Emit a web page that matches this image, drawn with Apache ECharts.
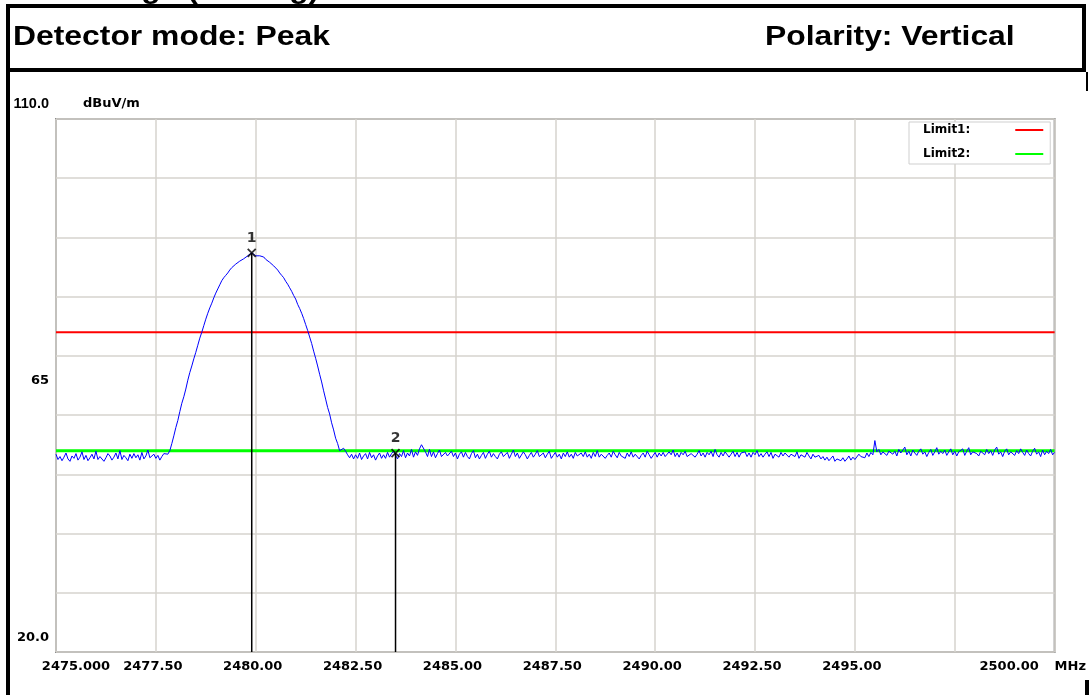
<!DOCTYPE html>
<html>
<head>
<meta charset="utf-8">
<title>Detector mode: Peak</title>
<script src="https://cdn.jsdelivr.net/npm/echarts@6/dist/echarts.min.js"></script>
<style>
  html, body { margin: 0; padding: 0; background: #fff; }
  /* fixed size, same as the screenshot */
  #myChart { width: 1089px; height: 695px; }
</style>
</head>
<body>
<div id="myChart"></div>
<script>
// frequency axis (MHz)
var freqMin = 2475
var freqMax = 2500
var freqStep = 2.5
var xTickLabels = ['2475.000', '2477.50', '2480.00', '2482.50', '2485.00', '2487.50',
  '2490.00', '2492.50', '2495.00', '', '2500.00']

// level axis (dBuV/m)
var levelMin = 20
var levelMax = 110
var levelStep = 10
var yTickLabels = ['20.0', '65', '110.0']

// limit lines
var limitNames = ['Limit1:', 'Limit2:']
var limitLevels = [74, 54]
var limitColors = ['#ff0000', '#00ff00']

// markers
var markerNames = ['1', '2']
var markerFreqs = [2479.90, 2483.50]
var markerLevels = [87.4, 53.6]

// measured trace, one point every 0.05 MHz from 2475.00
var traceStart = 2475
var traceStep = 0.05
var traceLevels = [
  // 2475.00 - 2477.75
  53.4, 52.5, 53.0, 52.3, 52.9, 53.6, 52.6, 52.2, 53.1, 52.7,
  53.5, 52.4, 52.9, 53.8, 52.5, 53.2, 52.3, 52.8, 53.4, 52.6,
  53.9, 52.5, 53.0, 53.3, 52.2, 52.8, 53.5, 53.1, 52.4, 52.9,
  53.6, 52.6, 54.0, 52.5, 53.2, 52.8, 52.3, 53.4, 52.7, 53.5,
  52.8, 53.3, 52.4, 53.7, 52.6, 53.1, 54.1, 52.8, 52.5, 53.4,
  52.7, 53.2, 52.4, 53.0, 53.5, 53.2,
  // 2477.80 - 2482.15 carrier
  53.4, 54.0, 55.2, 56.5,
  57.9, 59.1, 60.6, 62.0, 63.1, 64.4, 65.9, 67.2, 68.3, 69.5,
  70.6, 71.8, 73.0, 74.0, 75.1, 76.2, 77.2, 78.1, 78.9, 79.8,
  80.6, 81.3, 82.0, 82.7, 83.2, 83.6, 84.0, 84.5, 84.9, 85.2,
  85.5, 85.8, 86.0, 86.2, 86.4, 86.6, 86.9, 87.2, 87.4, 87.1,
  86.9, 86.8, 86.9, 86.6, 86.7, 86.3, 86.1, 85.8, 85.6, 85.2,
  84.9, 84.5, 84.0, 83.6, 83.2, 82.6, 82.1, 81.5, 80.9, 80.2,
  79.6, 78.7, 78.0, 77.2, 76.3, 75.3, 74.3, 73.2, 72.1, 70.8,
  69.6, 68.3, 66.9, 65.6, 64.1, 62.7, 61.3, 60.2, 58.7, 57.5,
  56.1, 55.2, 54.0, 53.9,
  // 2482.20 - 2500.00
  54.4, 53.9, 53.3, 52.8, 53.4, 52.6, 53.3, 52.7, 53.6, 52.5, 53.1, 53.5, 52.6, 53.7, 52.8, 53.3, 52.4, 53.1, 53.6, 52.7,
  53.3, 52.7, 53.7, 52.9, 53.5, 53.9, 53.6, 52.6, 53.5, 53.0, 54.0, 52.8, 53.6, 53.1, 54.2, 52.9, 53.8, 53.2, 54.3, 55.0,
  55.2, 53.8, 53.0, 54.2, 53.0, 53.8, 52.8, 53.5, 54.1, 53.0, 52.7, 53.7, 53.1, 52.8, 53.9, 53.0, 53.6, 52.6, 53.4, 53.8,
  52.9, 53.7, 53.0, 52.6, 53.5, 54.0, 52.8, 53.4, 52.6, 53.2, 53.7, 52.7, 53.4, 53.9, 52.9, 53.5, 53.0, 52.6, 53.4, 53.8,
  53.0, 52.8, 53.7, 52.7, 53.4, 54.1, 53.0, 53.6, 52.7, 52.9, 53.8, 53.3, 52.6, 53.2, 53.7, 52.9, 53.4, 54.0, 53.0, 52.7,
  53.6, 52.8, 53.4, 53.9, 52.7, 53.2, 53.7, 52.9, 53.4, 52.6, 53.6, 53.0, 53.8, 52.9, 53.4, 52.7, 53.7, 53.1, 52.9, 53.6,
  53.0, 53.8, 52.9, 53.4, 52.7, 53.7, 53.0, 54.0, 52.9, 53.4, 53.7, 52.7, 53.2, 53.6, 52.9, 53.9, 53.3, 52.8, 53.7, 53.1,
  53.4, 52.7, 53.6, 53.0, 53.8, 52.9, 53.4, 53.7, 52.6, 53.2, 53.6, 52.9, 53.9, 53.3, 52.7, 53.2, 53.7, 52.9, 53.6, 53.1,
  53.7, 53.0, 52.9, 53.8, 53.3, 54.1, 53.0, 53.6, 52.9, 53.7, 53.3, 53.9, 53.0, 52.7, 53.5, 53.8, 52.9, 53.4, 54.0, 53.1,
  53.6, 52.9, 53.7, 53.3, 53.9, 53.0, 54.2, 53.3, 52.9, 53.7, 53.1, 53.8, 53.5, 52.9, 53.4, 53.9, 53.0, 53.7, 52.9, 53.6,
  53.3, 53.8, 53.0, 53.6, 52.9, 53.7, 53.3, 54.0, 53.0, 53.5, 52.9, 53.4, 53.8, 53.0, 53.7, 52.7, 53.4, 53.6, 52.9, 53.7,
  53.1, 53.6, 53.9, 52.9, 53.4, 53.7, 53.0, 53.8, 52.7, 53.3, 53.6, 52.9, 53.7, 53.1, 52.6, 53.4, 52.9, 52.7, 53.2, 52.6,
  53.0, 52.4, 52.9, 52.3, 52.7, 53.1, 52.2, 52.6, 52.9, 52.3, 52.8, 52.2, 52.6, 53.1, 52.4, 52.9, 52.5, 52.7, 53.4, 53.0,
  53.2, 52.8, 53.6, 53.0, 53.7, 53.3, 55.7, 53.8, 54.2, 53.3, 53.8, 54.0, 53.2, 53.9, 54.1, 53.4, 53.9, 53.1, 54.2, 53.6,
  53.8, 54.6, 53.3, 53.9, 53.1, 54.1, 53.6, 53.2, 53.9, 54.3, 53.4, 53.8, 53.0, 53.7, 54.2, 53.2, 53.8, 54.5, 53.4, 53.9,
  53.5, 54.1, 53.2, 53.8, 54.3, 53.3, 53.9, 53.1, 53.8, 53.5, 54.3, 53.2, 53.9, 54.5, 53.3, 53.8, 54.1, 53.5, 53.1, 53.9,
  53.7, 53.3, 54.2, 53.5, 54.0, 53.2, 54.1, 54.6, 53.4, 53.8, 53.0, 53.9, 54.3, 53.3, 53.8, 54.1, 53.2, 54.0, 53.5, 54.3,
  53.7, 53.2, 54.1, 53.5, 53.1, 53.9, 54.4, 53.4, 53.8, 53.0, 54.1, 53.3, 53.9, 53.5, 54.2, 53.3, 53.7
]

var labelFont = 'DejaVu Sans'

var traceData = traceLevels.map(function (v, i) {
  return [+(traceStart + i * traceStep).toFixed(2), v]
})

var series = []
limitNames.forEach(function (name, i) {
  series.push({
    name: name,
    type: 'line',
    data: [[freqMin, limitLevels[i]], [freqMax, limitLevels[i]]],
    symbol: 'none',
    silent: true,
    z: 2,
    lineStyle: { color: limitColors[i], width: i === 0 ? 2 : 3 },
    itemStyle: { color: limitColors[i] }
  })
})
series.push({
  name: 'trace',
  type: 'line',
  data: traceData,
  symbol: 'none',
  z: 3,
  lineStyle: { color: '#0000ff', width: 1 }
})
markerNames.forEach(function (name, i) {
  // marker stem down to the bottom of the plot
  series.push({
    type: 'line',
    data: [[markerFreqs[i], markerLevels[i]], [markerFreqs[i], levelMin]],
    symbol: 'none',
    silent: true,
    z: 4,
    lineStyle: { color: '#000', width: 1.5 }
  })
  series.push({
    type: 'scatter',
    data: [[markerFreqs[i], markerLevels[i]]],
    symbol: 'path://M0,0 L10,10 M10,0 L0,10',
    symbolSize: 8,
    z: 5,
    itemStyle: { color: 'none', borderColor: '#000', borderWidth: 1.8 },
    label: {
      show: true,
      position: 'top',
      distance: 1,
      formatter: name,
      color: '#000',
      fontFamily: labelFont,
      fontWeight: 'bold',
      fontSize: 14
    }
  })
})

var frame = '#000'
var option = {
  animation: false,
  backgroundColor: '#fff',
  grid: {
    left: 56,
    top: 119,
    right: 33,
    bottom: 43,
    show: true,
    borderColor: '#8c8c8c',
    borderWidth: 2,
    backgroundColor: '#fff'
  },
  legend: {
    data: limitNames.map(function (n) { return { name: n, icon: 'rect' } }),
    orient: 'vertical',
    left: 909,
    top: 122,
    align: 'right',
    itemWidth: 28,
    itemHeight: 2,
    itemGap: 12,
    padding: [2, 7, 4, 14],
    backgroundColor: '#fff',
    borderColor: '#cfcfcf',
    borderWidth: 1,
    selectedMode: false,
    formatter: function (n) { return '{n|' + n + '}' },
    textStyle: {
      rich: {
        n: {
          fontFamily: labelFont,
          fontWeight: 'bold',
          fontSize: 12,
          color: '#000',
          lineHeight: 16,
          padding: [0, 40, 0, 0]
        }
      }
    }
  },
  xAxis: {
    type: 'value',
    min: freqMin,
    max: freqMax,
    interval: freqStep,
    name: 'MHz',
    nameLocation: 'end',
    nameGap: 0,
    nameTextStyle: {
      fontFamily: labelFont,
      fontWeight: 'bold',
      fontSize: 13,
      color: '#000',
      align: 'left',
      verticalAlign: 'top',
      padding: [8, 0, 0, 0]
    },
    axisLine: { show: false },
    axisTick: { show: false },
    splitLine: { show: true, lineStyle: { color: '#d6d3ce', width: 1.5 } },
    axisLabel: {
      margin: 8,
      formatter: function (val) {
        var k = Math.round((val - freqMin) / freqStep)
        var txt = xTickLabels[k] || ''
        if (!txt) return ''
        if (k === 0) return '{first|' + txt + '}'
        if (k === xTickLabels.length - 1) return '{last|' + txt + '}'
        return '{mid|' + txt + '}'
      },
      rich: {
        first: { fontFamily: labelFont, fontWeight: 'bold', fontSize: 13, color: '#000', padding: [0, 0, 0, 40] },
        mid: { fontFamily: labelFont, fontWeight: 'bold', fontSize: 13, color: '#000', padding: [0, 6, 0, 0] },
        last: { fontFamily: labelFont, fontWeight: 'bold', fontSize: 13, color: '#000', padding: [0, 91, 0, 0] }
      }
    }
  },
  yAxis: [
    {
      // grid lines every 10 dB
      type: 'value',
      min: levelMin,
      max: levelMax,
      interval: levelStep,
      position: 'left',
      axisLine: { show: false },
      axisTick: { show: false },
      axisLabel: { show: false },
      splitLine: { show: true, lineStyle: { color: '#d6d3ce', width: 1.5 } },
      name: 'dBuV/m',
      nameLocation: 'end',
      nameGap: 9,
      nameTextStyle: {
        fontFamily: labelFont,
        fontWeight: 'bold',
        fontSize: 13,
        color: '#000',
        align: 'left',
        padding: [0, 0, 0, 27]
      }
    },
    {
      // only three labels: bottom, middle, top
      type: 'value',
      min: levelMin,
      max: levelMax,
      interval: (levelMax - levelMin) / 2,
      position: 'left',
      axisLine: { show: false },
      axisTick: { show: false },
      splitLine: { show: false },
      axisLabel: {
        margin: 7,
        formatter: function (val) {
          var k = Math.round((val - levelMin) / ((levelMax - levelMin) / 2))
          var key = ['b', 'm', 't'][k]
          return '{' + key + '|' + yTickLabels[k] + '}'
        },
        rich: {
          b: { fontFamily: labelFont, fontWeight: 'bold', fontSize: 13, color: '#000', padding: [0, 0, 28, 0] },
          m: { fontFamily: labelFont, fontWeight: 'bold', fontSize: 13, color: '#000', padding: [0, 0, 9, 0] },
          t: { fontFamily: 'Liberation Sans', fontWeight: 'bold', fontSize: 14.5, color: '#000', padding: [0, 0, 30, 0] }
        }
      }
    }
  ],
  series: series,
  graphic: [
    // title row cut off at the top edge
    {
      type: 'text', x: 12, y: -9, scaleX: 1.18, z: 10,
      style: { text: 'Band Edge (Testing)', font: 'bold 27px "Liberation Sans"', fill: '#000',
        textVerticalAlign: 'middle', verticalAlign: 'middle' }
    },
    {
      type: 'text', x: 13, y: 38, scaleX: 1.18, z: 10,
      style: { text: 'Detector mode: Peak', font: 'bold 27px "Liberation Sans"', fill: '#000',
        textVerticalAlign: 'middle', verticalAlign: 'middle' }
    },
    {
      type: 'text', x: 765, y: 38, scaleX: 1.18, z: 10,
      style: { text: 'Polarity: Vertical', font: 'bold 27px "Liberation Sans"', fill: '#000',
        textVerticalAlign: 'middle', verticalAlign: 'middle' }
    },
    // page frame
    { type: 'rect', z: 11, shape: { x: 6, y: 4, width: 1080, height: 4 }, style: { fill: frame } },
    { type: 'rect', z: 11, shape: { x: 6, y: 4, width: 4, height: 691 }, style: { fill: frame } },
    { type: 'rect', z: 11, shape: { x: 6, y: 68, width: 1080, height: 4 }, style: { fill: frame } },
    { type: 'rect', z: 11, shape: { x: 1082, y: 4, width: 4, height: 68 }, style: { fill: frame } },
    { type: 'rect', z: 11, shape: { x: 1086, y: 72, width: 2, height: 19 }, style: { fill: frame } },
    { type: 'rect', z: 11, shape: { x: 1085, y: 680, width: 4, height: 15 }, style: { fill: frame } }
  ]
}

var myChart = echarts.init(document.getElementById('myChart'), null, { renderer: 'canvas' })
myChart.setOption(option)
</script>
</body>
</html>
